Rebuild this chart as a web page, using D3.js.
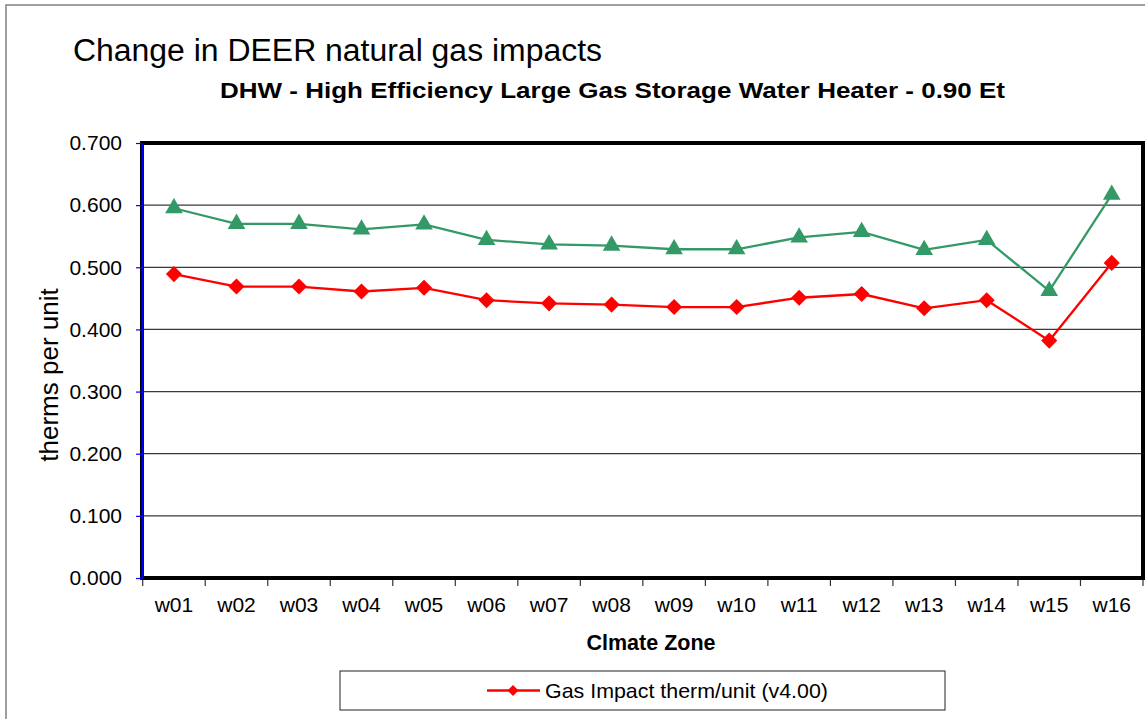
<!DOCTYPE html>
<html>
<head>
<meta charset="utf-8">
<script src="https://cdn.jsdelivr.net/npm/d3@7"></script>
<style>
  body { margin: 0; background: #fff; }
  svg { display: block; font-family: "Liberation Sans", Arial, sans-serif; }
</style>
</head>
<body>
<div id="chart"></div>
<script>
// climate zones on the x axis
const zones = ["w01", "w02", "w03", "w04", "w05", "w06", "w07", "w08",
               "w09", "w10", "w11", "w12", "w13", "w14", "w15", "w16"];
// red series (in legend)
const gasImpactV400 = [0.489, 0.469, 0.469, 0.461, 0.467, 0.447, 0.442, 0.440,
                       0.436, 0.436, 0.451, 0.457, 0.434, 0.447, 0.382, 0.507];
// green series (not in legend)
const gasImpactPrior = [0.595, 0.570, 0.570, 0.561, 0.569, 0.544, 0.537, 0.535,
                        0.529, 0.529, 0.548, 0.557, 0.528, 0.544, 0.462, 0.617];
const yTicks = [0, 0.1, 0.2, 0.3, 0.4, 0.5, 0.6, 0.7];

const width = 1145, height = 719;
const plot = { left: 142, right: 1143, top: 143, bottom: 578 };

const svg = d3.select("#chart").append("svg")
  .attr("width", width)
  .attr("height", height);

// outer chart border
svg.append("rect")
  .attr("x", 6).attr("y", 5)
  .attr("width", 1300).attr("height", 900)
  .attr("fill", "#fff")
  .attr("stroke", "#808080")
  .attr("stroke-width", 1.5);

const x = d3.scaleBand()
  .domain(zones)
  .range([plot.left + 0.7, plot.right]);

const y = d3.scaleLinear()
  .domain([0, 0.7])
  .range([plot.bottom, plot.top]);

// titles
svg.append("text")
  .attr("x", 73).attr("y", 61)
  .attr("textLength", 529)
  .attr("lengthAdjust", "spacingAndGlyphs")
  .style("font-size", "31px")
  .text("Change in DEER natural gas impacts");

svg.append("text")
  .attr("x", 220).attr("y", 98)
  .attr("textLength", 785)
  .attr("lengthAdjust", "spacingAndGlyphs")
  .style("font-size", "22.5px")
  .style("font-weight", "bold")
  .text("DHW - High Efficiency Large Gas Storage Water Heater - 0.90 Et");

// gridlines
svg.append("g")
  .selectAll("line")
  .data(yTicks.filter(d => d > 0 && d < 0.7))
  .join("line")
  .attr("x1", plot.left).attr("x2", plot.right)
  .attr("y1", d => y(d)).attr("y2", d => y(d))
  .attr("stroke", "#3a3a3a")
  .attr("stroke-width", 1.3);

// plot frame
svg.append("rect")
  .attr("x", plot.left).attr("y", plot.top)
  .attr("width", plot.right - plot.left)
  .attr("height", plot.bottom - plot.top)
  .attr("fill", "none")
  .attr("stroke", "#000")
  .attr("stroke-width", 4);

// y axis
const yAxis = svg.append("g")
  .attr("transform", `translate(${plot.left},0)`)
  .call(d3.axisLeft(y).tickValues(yTicks).tickFormat(d3.format(".3f"))
    .tickSize(6).tickPadding(14).tickSizeOuter(0));
yAxis.select(".domain").attr("stroke", "#0000ff").attr("stroke-width", 2);
yAxis.selectAll(".tick line").attr("stroke", "#0000ff").attr("stroke-width", 1.2);
yAxis.selectAll("text")
  .style("font-size", "21px")
  .style("font-family", "Liberation Sans, Arial, sans-serif")
  .attr("fill", "#000");

// x axis labels
const xAxis = svg.append("g")
  .attr("transform", `translate(0,${plot.bottom})`)
  .call(d3.axisBottom(x).tickSize(0).tickPadding(19));
xAxis.select(".domain").remove();
xAxis.selectAll("text")
  .style("font-size", "21px")
  .style("font-family", "Liberation Sans, Arial, sans-serif")
  .attr("fill", "#000");

// x tick marks at category boundaries
svg.append("g")
  .selectAll("line")
  .data(d3.range(zones.length + 1))
  .join("line")
  .attr("x1", i => x.range()[0] + i * x.step())
  .attr("x2", i => x.range()[0] + i * x.step())
  .attr("y1", plot.bottom + 2)
  .attr("y2", plot.bottom + 8)
  .attr("stroke", "#333")
  .attr("stroke-width", 1.2);

// axis titles
svg.append("text")
  .attr("transform", "translate(58,375) rotate(-90)")
  .attr("text-anchor", "middle")
  .style("font-size", "26px")
  .text("therms per unit");

svg.append("text")
  .attr("x", 651).attr("y", 650)
  .attr("text-anchor", "middle")
  .style("font-size", "21.5px")
  .style("font-weight", "bold")
  .text("Clmate Zone");

// series
const line = d3.line()
  .x((d, i) => x(zones[i]) + x.bandwidth() / 2)
  .y(d => y(d));

function drawSeries(values, color, symbol, size, rotate) {
  svg.append("path")
    .datum(values)
    .attr("d", line)
    .attr("fill", "none")
    .attr("stroke", color)
    .attr("stroke-width", 2.3);
  svg.append("g")
    .selectAll("path")
    .data(values)
    .join("path")
    .attr("d", d3.symbol().type(symbol).size(size))
    .attr("transform", (d, i) =>
      `translate(${x(zones[i]) + x.bandwidth() / 2},${y(d)}) rotate(${rotate})`)
    .attr("fill", color);
}

drawSeries(gasImpactPrior, "#339966", d3.symbolTriangle, 135, 0);
drawSeries(gasImpactV400, "#ff0000", d3.symbolSquare, 130, 45);

// legend
const legend = svg.append("g");
legend.append("rect")
  .attr("x", 340).attr("y", 671)
  .attr("width", 605).attr("height", 39)
  .attr("fill", "#fff")
  .attr("stroke", "#222")
  .attr("stroke-width", 1);
legend.append("line")
  .attr("x1", 487).attr("x2", 540)
  .attr("y1", 690.5).attr("y2", 690.5)
  .attr("stroke", "#ff0000")
  .attr("stroke-width", 2.5);
legend.append("path")
  .attr("d", d3.symbol().type(d3.symbolSquare).size(60))
  .attr("transform", "translate(513,690.5) rotate(45)")
  .attr("fill", "#ff0000");
legend.append("text")
  .attr("x", 545).attr("y", 698)
  .attr("textLength", 283)
  .attr("lengthAdjust", "spacingAndGlyphs")
  .style("font-size", "21px")
  .text("Gas Impact therm/unit (v4.00)");
</script>
</body>
</html>
